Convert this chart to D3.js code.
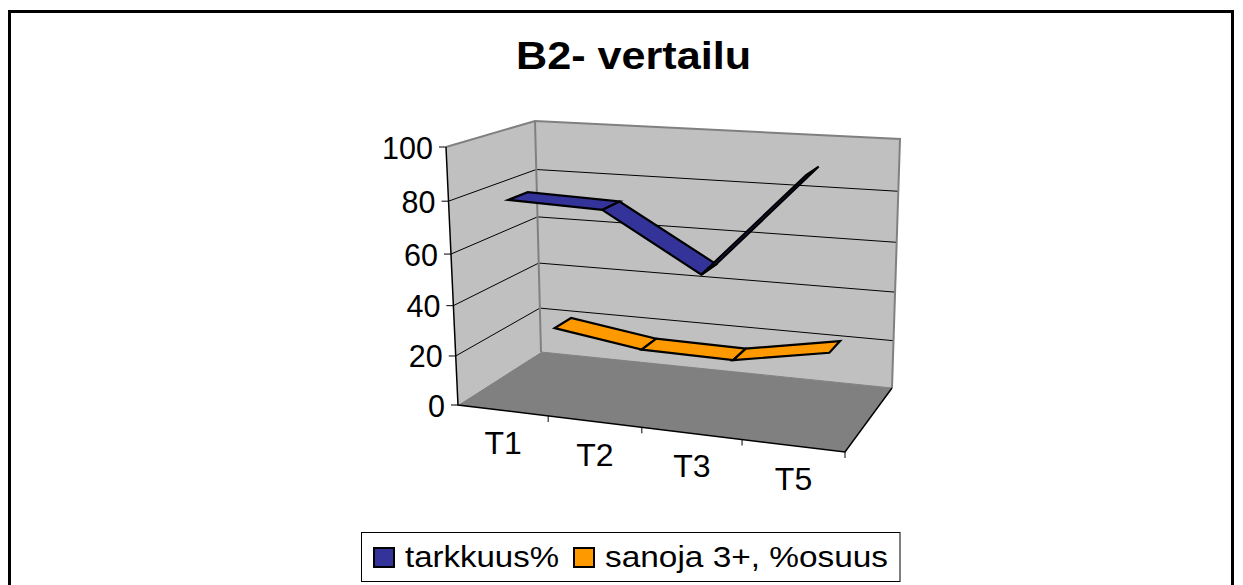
<!DOCTYPE html>
<html><head><meta charset="utf-8">
<script src="https://cdn.jsdelivr.net/npm/d3@7"></script>
<style>html,body{margin:0;padding:0;background:#fff}svg{display:block}text{font-family:"Liberation Sans",Arial,sans-serif;fill:#000}</style>
</head><body><svg id="c" width="1243" height="585"></svg>
<script>
const title = "B2- vertailu";
const categories = ["T1","T2","T3","T5"];
const seriesNames = ["tarkkuus%","sanoja 3+, %osuus"];
const tarkkuus = [80,79,58,97];
const sanoja = [20,14.5,14,21];
const yTicks = [0,20,40,60,80,100];
const seriesColors = ["#333399","#FF9900"];

const svg = d3.select("#c");
// projected box corners
const A=[458,405],B=[845,452],C=[541,352],D=[892,388],E=[446,147],F=[852,176],G=[535,121],H=[900,139];
const lerp=(p,q,t)=>[p[0]+(q[0]-p[0])*t,p[1]+(q[1]-p[1])*t];
// perspective-compressed scales along the box
const xS=d3.scaleLinear().domain([0,1,2,3,4]).range([0,.233,.475,.734,1]);
const yS=d3.scaleLinear().domain(yTicks).range([0,.19,.385,.585,.79,1]);
const proj=(c,val,w)=>{const u=xS(c),v=yS(val);
  const b=lerp(lerp(A,B,u),lerp(C,D,u),w),t=lerp(lerp(E,F,u),lerp(G,H,u),w);
  return lerp(b,t,v);};
const line=d3.line();
const path=(pts,o)=>{const p=svg.append("path").attr("d",line(pts)+(o.close?"Z":""));
  p.attr("fill",o.fill||"none").attr("stroke",o.stroke||"none").attr("stroke-width",o.sw||1).attr("stroke-linejoin","miter").attr("stroke-miterlimit",12);return p;};

// outer frame
svg.append("path").attr("d","M9.5,585V11.5H1232.5V585").attr("fill","none").attr("stroke","#000").attr("stroke-width",3);

svg.append("text").attr("x",516).attr("y",69).attr("font-weight","bold").attr("font-size",38)
  .attr("textLength",235).attr("lengthAdjust","spacingAndGlyphs").text(title);

// walls
path([proj(0,0,0),proj(0,0,1),proj(0,100,1),proj(0,100,0)],{fill:"#C0C0C0",close:true});
path([proj(0,0,1),proj(4,0,1),proj(4,100,1),proj(0,100,1)],{fill:"#C0C0C0",close:true});
path([proj(0,0,0),proj(4,0,0),proj(4,0,1),proj(0,0,1)],{fill:"#808080",close:true});
// gridlines
yTicks.filter(t=>t>0&&t<100).forEach(t=>{
  path([proj(0,t,0),proj(0,t,1),proj(4,t,1)],{stroke:"#000",sw:1});
});
// wall edges
path([proj(0,100,0),proj(0,100,1),proj(4,100,1),proj(4,0,1)],{stroke:"#808080",sw:2});
path([proj(0,100,1),proj(0,0,1)],{stroke:"#808080",sw:2});
path([proj(0,0,1),proj(4,0,1)],{stroke:"#808080",sw:1});
// axes
path([proj(0,100,0),proj(0,0,0),proj(4,0,0),proj(4,0,1)],{stroke:"#000",sw:1.5});
yTicks.forEach(t=>{const p=proj(0,t,0);
  path([p,[p[0]-7,p[1]]],{stroke:"#000",sw:1});
  svg.append("text").attr("x",p[0]-13).attr("y",p[1]+11.5).attr("text-anchor","end").attr("font-size",30.5).text(t);
});
[1,2,3,4].forEach(c=>{const p=proj(c,0,0);path([p,[p[0],p[1]+6]],{stroke:"#000",sw:1});});
categories.forEach((c,i)=>{const p=proj(i+.5,0,0);
  svg.append("text").attr("x",p[0]).attr("y",p[1]+44).attr("text-anchor","middle").attr("font-size",32).text(c);
});
// ribbons
const ribbon=(vals,color,w0,w1)=>{
  d3.pairs(vals.map((v,i)=>[i+.5,v])).forEach(([a,b])=>{
    path([proj(a[0],a[1],w0),proj(b[0],b[1],w0),proj(b[0],b[1],w1),proj(a[0],a[1],w1)],{fill:color,stroke:"#000",sw:2.2,close:true});
  });
};
ribbon(tarkkuus,seriesColors[0],.155,.39);
ribbon(sanoja,seriesColors[1],.67,.875);

// legend
svg.append("rect").attr("x",361.5).attr("y",532.5).attr("width",538.5).attr("height",49).attr("fill","#fff").attr("stroke","#000").attr("stroke-width",1);
[[374,seriesColors[0],405,154,seriesNames[0]],[574,seriesColors[1],605,283,seriesNames[1]]].forEach(([x,col,tx,tl,name])=>{
  svg.append("rect").attr("x",x).attr("y",548).attr("width",20).attr("height",19).attr("fill",col).attr("stroke","#000").attr("stroke-width",2);
  svg.append("text").attr("x",tx).attr("y",567).attr("font-size",29)
    .attr("textLength",tl).attr("lengthAdjust","spacingAndGlyphs").text(name);
});
</script></body></html>
